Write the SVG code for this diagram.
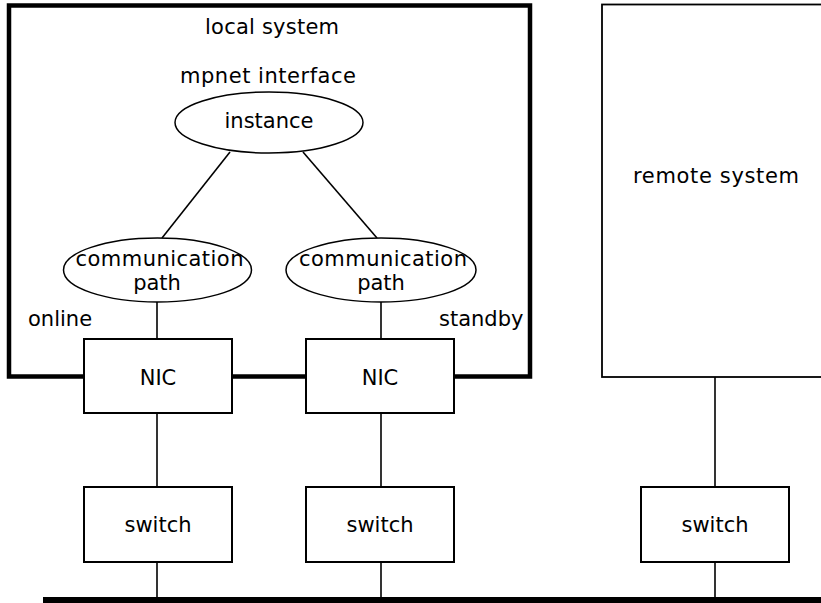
<svg xmlns="http://www.w3.org/2000/svg" width="821" height="603" viewBox="0 0 821 603">
<style>
  text { font-family: "DejaVu Sans", "Liberation Sans", sans-serif; font-size: 21px; fill: #000; }
  .c { text-anchor: middle; }
  .box { fill: #fff; stroke: #000; stroke-width: 2; }
  .ell { fill: #fff; stroke: #000; stroke-width: 1.5; }
  .ln { stroke: #000; stroke-width: 1.6; fill: none; }
</style>
<rect width="821" height="603" fill="#fff"/>
<g id="local-system">
  <rect x="9" y="5.5" width="521" height="371" fill="none" stroke="#000" stroke-width="4.5"/>
  <text class="c" x="272" y="34" textLength="134">local system</text>
  <text class="c" x="268" y="83" textLength="176">mpnet interface</text>
  <text x="28" y="326">online</text>
  <text x="439" y="326">standby</text>
</g>
<g id="remote-system">
  <rect x="602" y="4.5" width="230" height="372.5" fill="none" stroke="#000" stroke-width="1.8"/>
  <text x="633" y="183" textLength="166">remote system</text>
</g>
<g id="connectors">
  <line class="ln" x1="230" y1="152" x2="162" y2="238"/>
  <line class="ln" x1="303" y1="152" x2="377" y2="238"/>
  <line class="ln" x1="157" y1="302" x2="157" y2="339"/>
  <line class="ln" x1="381" y1="302" x2="381" y2="339"/>
  <line class="ln" x1="157" y1="413" x2="157" y2="487"/>
  <line class="ln" x1="381" y1="413" x2="381" y2="487"/>
  <line class="ln" x1="715" y1="377" x2="715" y2="487"/>
  <line class="ln" x1="157" y1="562" x2="157" y2="597"/>
  <line class="ln" x1="381" y1="562" x2="381" y2="597"/>
  <line class="ln" x1="715" y1="562" x2="715" y2="597"/>
</g>
<g id="bus">
  <rect x="43" y="597" width="778" height="6" fill="#000"/>
</g>
<g id="instance">
  <ellipse class="ell" cx="269" cy="122.5" rx="94" ry="30.5"/>
  <text class="c" x="269" y="128">instance</text>
</g>
<g id="comm-path-1">
  <ellipse class="ell" cx="157.5" cy="270" rx="94" ry="32"/>
  <text class="c" x="159.5" y="266" textLength="168">communication</text>
  <text class="c" x="157" y="290">path</text>
</g>
<g id="comm-path-2">
  <ellipse class="ell" cx="381" cy="270" rx="95" ry="32"/>
  <text class="c" x="383" y="266" textLength="168">communication</text>
  <text class="c" x="381" y="290">path</text>
</g>
<g id="nic-1">
  <rect class="box" x="84" y="339" width="148" height="74"/>
  <text class="c" x="158" y="385">NIC</text>
</g>
<g id="nic-2">
  <rect class="box" x="306" y="339" width="148" height="74"/>
  <text class="c" x="380" y="385">NIC</text>
</g>
<g id="switch-1">
  <rect class="box" x="84" y="487" width="148" height="75"/>
  <text class="c" x="158" y="532">switch</text>
</g>
<g id="switch-2">
  <rect class="box" x="306" y="487" width="148" height="75"/>
  <text class="c" x="380" y="532">switch</text>
</g>
<g id="switch-3">
  <rect class="box" x="641" y="487" width="148" height="75"/>
  <text class="c" x="715" y="532">switch</text>
</g>
</svg>
